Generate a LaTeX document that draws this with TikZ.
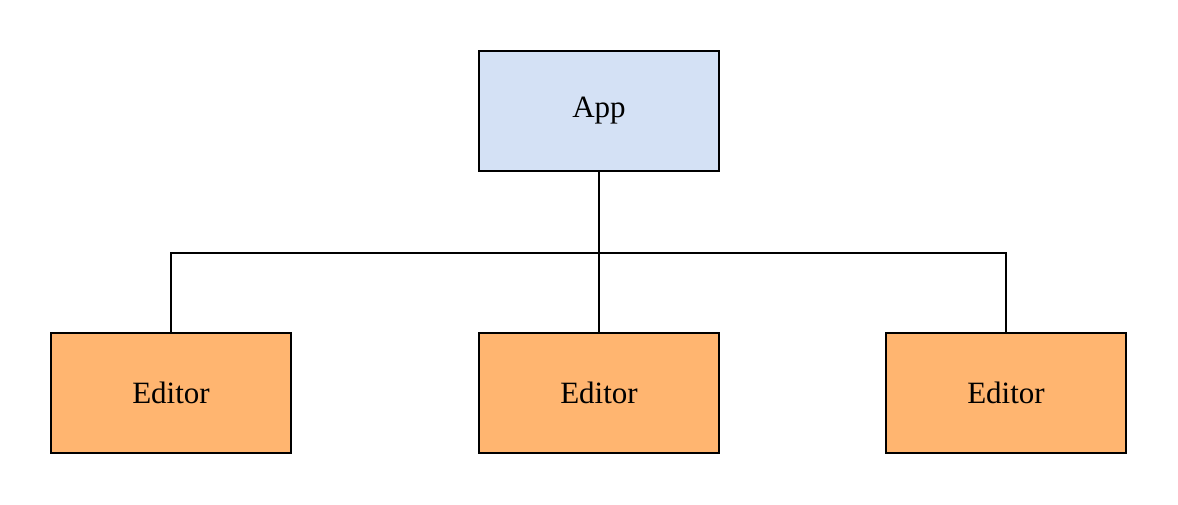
\documentclass[tikz,border=0pt]{standalone}
\usepackage{fontspec}
\setmainfont{Liberation Serif}
\definecolor{appblue}{HTML}{D4E1F5}
\definecolor{editororange}{HTML}{FFB570}
\tikzset{
    box/.style={draw=black, line width=1.5pt, minimum width=240pt, minimum height=120pt,
        inner sep=0pt, font=\fontsize{31}{37}\selectfont},
    link/.style={line width=1.5pt}
}
\begin{document}
\begin{tikzpicture}[x=1pt,y=-1pt]
        \useasboundingbox (0,0) rectangle (1178,504);
        % Boxes
        \node[box, fill=appblue] (app) at (599,111) {App};
        \node[box, fill=editororange] (editorA) at (171,393) {Editor};
        \node[box, fill=editororange] (editorB) at (599,393) {Editor};
        \node[box, fill=editororange] (editorC) at (1006,393) {Editor};

        % Links
        \coordinate (split) at (599,253);
        \draw[link] (app.south) -- (split);
        \draw[link] (editorA.north) |- (split) -| (editorC.north);
        \draw[link] (split) -- (editorB.north);

    \end{tikzpicture}
\end{document}
